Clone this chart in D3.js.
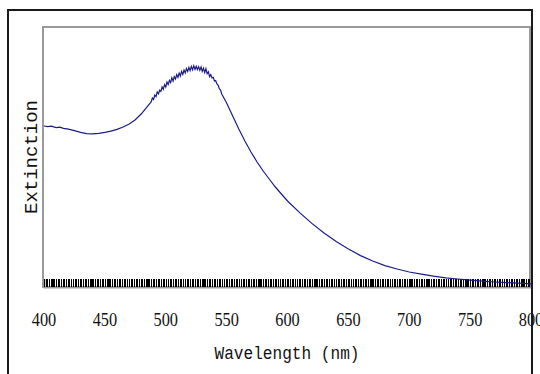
<!DOCTYPE html>
<html>
<head>
<meta charset="utf-8">
<script src="https://cdn.jsdelivr.net/npm/d3@7"></script>
<style>
  html, body { margin: 0; padding: 0; background: #fff; }
  svg { display: block; }
</style>
</head>
<body>
<svg></svg>
<script>
const width = 540;
const height = 374;

// spectrum (arbitrary extinction units)
const wavelength = [400, 403, 406, 410, 413, 416, 420, 425, 430, 435, 440, 445, 450, 455, 460, 465, 470, 475, 480, 484,
	488, 489, 490, 491, 492, 493, 494, 495, 496, 497, 498, 499, 500, 501, 502, 503, 504, 505, 506, 507, 508, 509,
	510, 511, 512, 513, 514, 515, 516, 517, 518, 519, 520, 521, 522, 523, 524, 525, 526, 527, 528, 529,
	530, 531, 532, 533, 534, 535, 536, 537, 538, 539, 540, 541, 542, 543, 544, 545, 546,
	550, 555, 560, 565, 570, 575, 580, 585, 590, 595, 600,
	610, 620, 630, 640, 650, 660, 670, 680, 690, 700, 710, 720, 730, 740, 750, 760, 770, 780, 790, 800];
const extinction = [0.805, 0.802, 0.804, 0.797, 0.799, 0.793, 0.789, 0.782, 0.773, 0.767, 0.766, 0.768, 0.773, 0.779, 0.788, 0.8, 0.815, 0.836, 0.866, 0.896,
	0.925, 0.945, 0.938, 0.96, 0.952, 0.975, 0.966, 0.984, 0.978, 1.0, 0.988, 1.012, 1.0, 1.025, 1.012, 1.033, 1.022, 1.046, 1.03, 1.052, 1.04, 1.062,
	1.048, 1.07, 1.055, 1.078, 1.063, 1.085, 1.07, 1.092, 1.078, 1.098, 1.082, 1.103, 1.086, 1.106, 1.088, 1.104, 1.087, 1.102, 1.084, 1.1,
	1.078, 1.094, 1.072, 1.092, 1.066, 1.076, 1.052, 1.062, 1.045, 1.048, 1.03, 1.032, 1.015, 1.01, 0.992, 0.985, 0.965,
	0.92, 0.855, 0.79, 0.73, 0.675, 0.625, 0.58, 0.54, 0.5, 0.465, 0.43,
	0.372, 0.318, 0.27, 0.227, 0.19, 0.157, 0.13, 0.107, 0.09, 0.075, 0.064, 0.054, 0.046, 0.04, 0.034, 0.029, 0.025, 0.022, 0.019, 0.016];
const xTicks = [400, 450, 500, 550, 600, 650, 700, 750, 800];

const svg = d3.select('svg')
	.attr('width', width)
	.attr('height', height);

const x = d3.scaleLinear().domain([400, 800]).range([44, 531]);
const y = d3.scaleLinear().domain([0, 1.3]).range([287, 27]);

// plot area border
svg.append('rect')
	.attr('x', 43).attr('y', 27)
	.attr('width', 487).attr('height', 260)
	.attr('fill', 'none')
	.attr('stroke', '#9a9a9a')
	.attr('stroke-width', 2);

// dense minor ticks along the bottom
svg.append('g')
	.attr('transform', 'translate(0,287)')
	.call(d3.axisTop(x).tickValues(d3.range(400, 801, 2)).tickSize(8).tickFormat(''))
	.call(g => g.select('.domain').attr('stroke', '#9a9a9a').attr('stroke-width', 2))
	.call(g => g.selectAll('.tick line')
		.attr('stroke', '#000')
		.attr('stroke-width', 1.5)
		.attr('shape-rendering', 'crispEdges'));

const line = d3.line()
	.x((d, i) => x(wavelength[i]))
	.y(d => y(d));

svg.append('path')
	.datum(extinction)
	.attr('fill', 'none')
	.attr('stroke', '#1c1c88')
	.attr('stroke-width', 1.2)
	.attr('d', line);

// tick labels
svg.append('g').selectAll('text')
	.data(xTicks)
	.enter()
	.append('text')
	.attr('transform', d => `translate(${x(d)},326) scale(0.86,1)`)
	.attr('text-anchor', 'middle')
	.attr('font-family', 'Liberation Serif, Times New Roman, serif')
	.attr('font-size', 19)
	.attr('fill', '#111')
	.text(d => d);

svg.append('text')
	.attr('x', 214.5).attr('y', 359)
	.attr('font-family', 'Liberation Mono, monospace')
	.attr('font-size', 19)
	.attr('textLength', 145)
	.attr('lengthAdjust', 'spacingAndGlyphs')
	.attr('fill', '#111')
	.text('Wavelength (nm)');

svg.append('text')
	.attr('transform', 'translate(37,157) rotate(-90)')
	.attr('text-anchor', 'middle')
	.attr('font-family', 'Liberation Mono, monospace')
	.attr('font-size', 19)
	.attr('fill', '#111')
	.text('Extinction');

// outer frame
svg.append('path')
	.attr('d', 'M8,380 V10 H532 V380')
	.attr('fill', 'none')
	.attr('stroke', '#1a1a1a')
	.attr('stroke-width', 2);
</script>
</body>
</html>
